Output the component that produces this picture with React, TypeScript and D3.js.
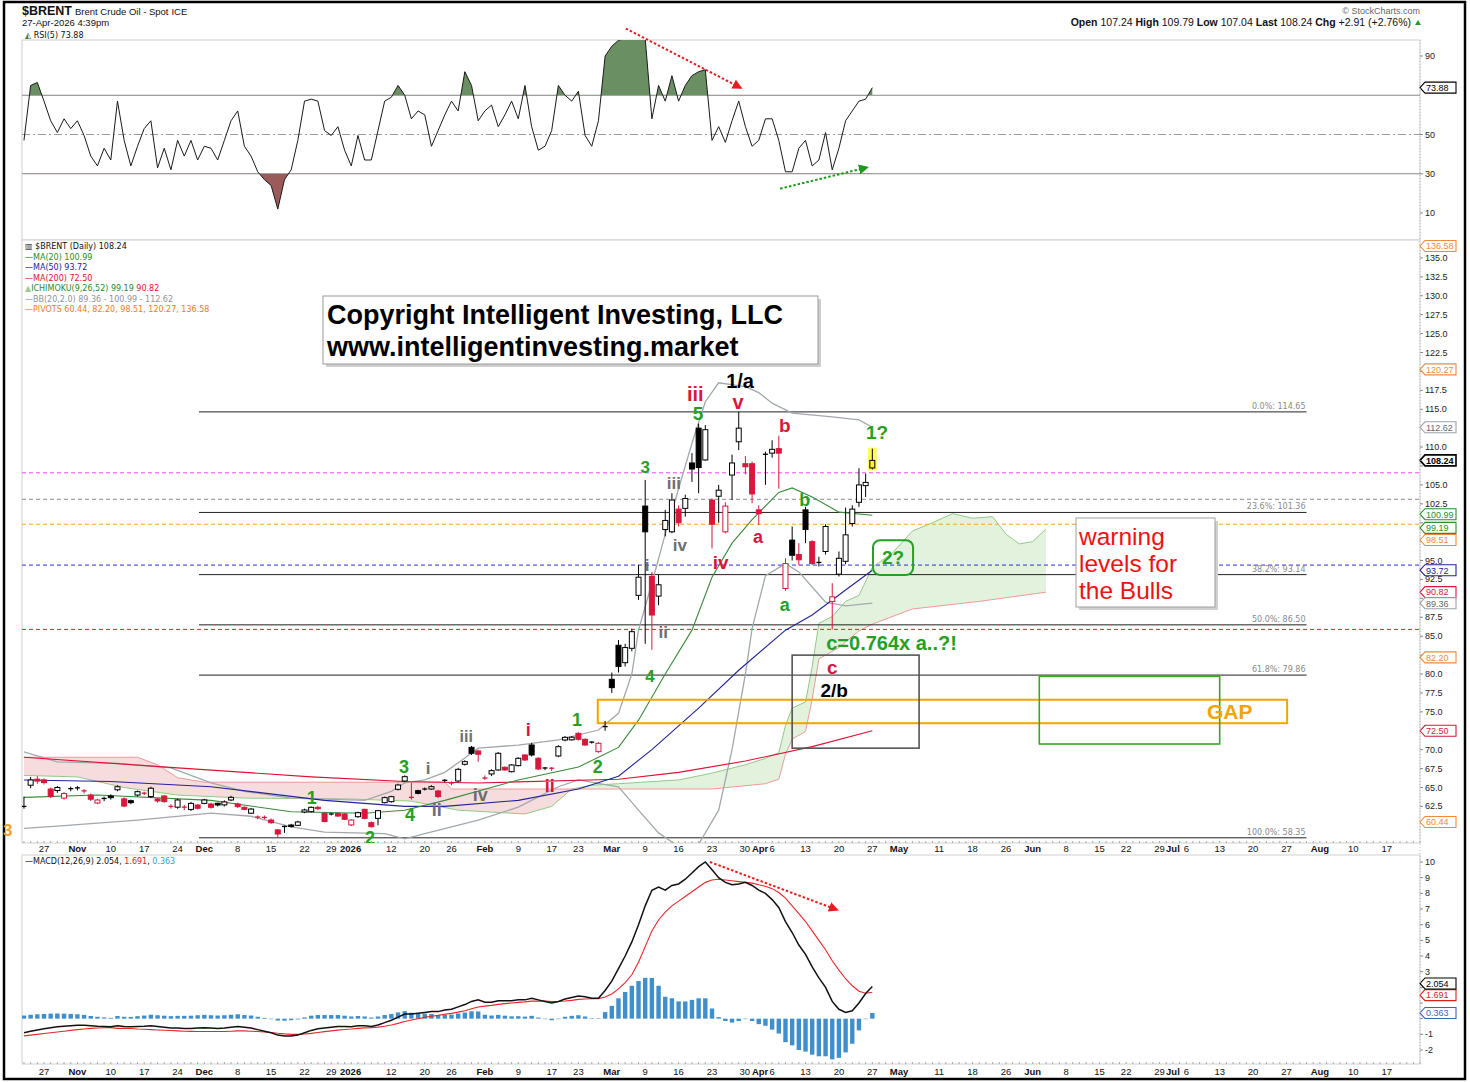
import React from "react";
import * as d3 from "d3";

// ---------- DATA ----------
const START = -3; // trading-day index of first candle (0 = 27 Oct 2025)
const opens = [62.5,65.3,66.1,66.0,64.8,64.6,63.6,64.85,64.95,64.55,64.0,62.95,63.55,63.88,64.7,63.5,63.26,64.0,64.25,63.8,63.48,63.88,62.5,62.4,62.4,62.1,62.69,62.9,62.82,62.91,62.7,63.35,62.82,62.38,61.6,61.1,61.05,60.7,59.4,59.85,60.04,60.0,61.76,61.8,62.38,61.58,61.5,61.58,61.5,60.05,61.14,62.11,60.35,60.92,63.0,63.13,64.76,65.86,63.7,64.58,64.8,64.8,64.54,65.95,65.6,65.86,68.07,70.31,69.83,66.25,66.79,67.32,67.67,67.09,67.89,69.3,70.62,68.86,67.58,67.55,69.17,71.28,71.3,72.16,71.37,71.0,69.74,73.05,79.3,83.8,81.5,83.4,90.4,102.2,92.9,90.3,99.1,98.8,101.8,101.9,107.9,112.5,108.3,103.0,103.5,98.8,106.3,110.7,107.8,107.8,101.7,109.05,109.2,109.8,91.3,97.7,95.8,101.7,97.5,94.75,96.2,89.6,93.2,94.9,99.9,102.7,104.9,107.24];
const highs = [63.8,66.4,66.5,66.2,65.0,65.2,64.4,65.1,65.2,64.8,64.2,63.5,63.8,64.1,65.3,63.7,63.4,64.6,64.45,65.1,63.6,64.0,62.8,63.5,62.7,63.1,62.8,63.5,63.0,63.0,63.3,63.9,63.0,62.5,62.3,61.3,61.3,60.9,59.5,60.0,60.2,60.6,62.2,62.5,62.6,61.7,61.6,61.7,61.6,60.8,61.8,62.2,60.5,62.0,63.8,63.9,65.5,66.6,65.6,64.7,65.0,65.3,64.7,66.1,65.8,67.6,68.6,70.5,70.0,66.6,67.4,69.7,67.8,68.1,69.0,69.4,70.9,69.0,67.7,67.7,70.6,71.8,71.8,72.3,71.5,71.1,71.0,73.8,80.2,84.5,84.0,86.0,94.4,105.65,93.5,93.1,101.7,103.9,102.3,103.7,109.2,113.1,112.9,103.2,105.0,102.7,109.0,114.65,108.8,108.1,102.3,109.4,110.9,111.5,95.3,99.5,97.3,102.1,97.7,95.5,99.8,92.0,96.2,102.0,102.3,107.2,106.5,109.79];
const lows = [62.2,64.9,65.5,65.4,63.6,64.3,63.4,64.5,64.6,64.2,63.2,62.8,63.2,63.4,64.5,62.4,62.8,63.8,64.0,63.6,63.0,63.0,62.2,62.2,62.0,61.9,62.1,62.8,62.2,62.5,62.5,63.2,62.3,62.0,61.5,60.8,60.8,60.2,58.35,59.0,59.7,59.9,61.6,61.7,62.0,60.4,61.3,61.1,60.7,59.9,61.0,60.8,59.7,60.0,62.9,63.0,64.6,65.7,63.4,64.1,64.6,64.7,63.6,65.7,65.3,65.7,67.9,69.3,68.4,66.0,66.5,67.2,67.2,67.0,67.8,68.5,69.1,67.3,67.3,67.2,69.0,71.1,71.2,71.2,70.5,70.8,69.6,72.5,77.5,80.2,81.0,83.0,89.8,84.0,83.2,89.1,98.2,98.6,99.5,100.8,105.4,103.9,108.2,96.6,100.0,98.6,103.0,109.6,106.4,102.6,99.7,105.0,108.6,104.5,91.0,95.0,94.4,97.3,94.4,94.2,95.8,85.9,92.9,94.5,99.5,102.1,103.4,107.04];
const closes = [62.45,66.0,65.85,65.65,63.8,65.0,64.2,64.8,64.9,64.45,63.45,63.35,63.5,63.66,65.1,62.55,63.0,64.45,64.2,64.9,63.22,63.13,62.45,63.35,62.38,62.9,62.25,63.35,62.38,62.69,63.1,63.7,62.47,62.11,62.15,61.05,61.0,60.35,58.85,59.8,59.85,60.44,62.03,62.38,62.2,60.5,61.45,61.23,60.8,60.7,61.67,60.92,59.82,61.94,63.66,63.79,65.33,66.43,63.66,64.23,64.76,65.11,63.8,65.9,65.55,67.4,68.42,69.52,69.39,66.2,67.23,69.52,67.32,67.98,68.86,68.64,69.3,67.45,67.53,67.5,70.4,71.63,71.65,71.37,70.62,70.93,70.84,73.0,78.2,81.0,83.5,85.6,92.8,98.8,87.8,91.8,100.3,103.0,100.0,103.2,107.1,107.3,112.3,99.8,104.3,102.2,107.9,112.5,107.4,103.8,101.2,109.0,109.7,109.2,94.6,95.7,95.1,99.1,94.6,94.7,99.5,90.2,95.3,98.4,101.8,105.0,105.33,108.24];

const rsiValues = [47,75,76.5,67,57,51,58,53,57,49.5,39,34,43,37,67,47,34,44,53,57,33,43,32,47,39,47,37,44,43,37,47,57,62,44,39,31,27,24,12,27,32,47,67,68,67,52,49.5,54,42,34,49.5,37,37,52,67,69,75,70,58,62,60,44,52,60,67,62,82,75,57,62,65,54,60,67,58,75,54,42,44,52,75,70,67,72,49.5,44,57,90,95,98,99,100,100,99,58,75,67,80,67,75,80,82,83,47,54,46,57,67,54,44,47,58,58,47,31,31,43,47,34,37,51,32,43,57,62,67,68,73.88];

const macdValues = [-0.9,-0.8,-0.72,-0.65,-0.58,-0.52,-0.48,-0.45,-0.42,-0.42,-0.45,-0.48,-0.5,-0.52,-0.45,-0.5,-0.52,-0.5,-0.48,-0.45,-0.5,-0.55,-0.6,-0.6,-0.62,-0.62,-0.6,-0.58,-0.6,-0.62,-0.6,-0.55,-0.5,-0.55,-0.6,-0.7,-0.8,-0.9,-1.05,-1.1,-1.1,-1.05,-0.9,-0.75,-0.65,-0.6,-0.55,-0.5,-0.5,-0.52,-0.45,-0.45,-0.5,-0.4,-0.25,-0.1,0.1,0.3,0.3,0.35,0.4,0.45,0.45,0.55,0.6,0.75,0.9,1.1,1.2,1.05,1.05,1.15,1.15,1.15,1.2,1.2,1.3,1.2,1.1,1.0,1.1,1.25,1.35,1.45,1.4,1.3,1.3,1.8,2.4,3.2,4.0,4.9,6.0,7.2,8.2,8.4,8.2,8.5,8.6,8.9,9.3,9.7,10.0,9.5,9.0,8.7,8.55,8.6,8.7,8.5,8.2,8.0,7.6,7.1,6.2,5.5,4.7,4.1,3.3,2.6,2.0,1.1,0.6,0.4,0.5,1.0,1.6,2.054];
const signalValues = [-1.1,-1.05,-1.0,-0.95,-0.9,-0.85,-0.8,-0.75,-0.7,-0.66,-0.62,-0.6,-0.58,-0.57,-0.62,-0.62,-0.63,-0.66,-0.68,-0.7,-0.72,-0.74,-0.76,-0.78,-0.8,-0.81,-0.82,-0.82,-0.82,-0.82,-0.82,-0.8,-0.78,-0.78,-0.8,-0.82,-0.85,-0.88,-0.93,-0.97,-1.0,-1.0,-0.98,-0.94,-0.88,-0.83,-0.78,-0.73,-0.69,-0.66,-0.62,-0.59,-0.57,-0.54,-0.48,-0.4,-0.3,-0.18,-0.08,0.0,0.08,0.15,0.21,0.28,0.34,0.42,0.51,0.63,0.74,0.8,0.85,0.91,0.96,1.0,1.04,1.07,1.12,1.13,1.12,1.1,1.1,1.13,1.17,1.23,1.26,1.27,1.28,1.38,1.58,1.9,2.3,2.8,3.6,4.6,5.6,6.3,6.8,7.2,7.5,7.8,8.1,8.4,8.7,8.85,8.9,8.85,8.8,8.75,8.7,8.65,8.55,8.45,8.3,8.05,7.7,7.2,6.7,6.2,5.6,5.0,4.4,3.7,3.1,2.55,2.1,1.75,1.62,1.691];

const ma20Pts = [[-3,63.7],[8,64.0],[25,63.3],[37,61.8],[48,61.6],[54,62.0],[60,63.3],[71,66.0],[80,67.7],[86,70.3],[89,73.9],[93,80.0],[97,85.8],[100,92.8],[103,97.3],[106,100.4],[110,104.0],[112,104.6],[115,103.4],[119,101.4],[124,100.99]];
const ma50Pts = [[-3,66.0],[10,65.8],[25,65.1],[42,63.3],[54,62.5],[60,62.5],[71,63.3],[80,64.8],[86,66.5],[91,70.0],[98,75.5],[104,80.5],[111,85.8],[115,87.8],[120,91.1],[124,93.72]];
const ma200Pts = [[-3,69.0],[20,67.6],[40,66.4],[54,65.8],[65,65.6],[86,66.1],[95,67.0],[105,68.5],[115,70.4],[124,72.5]];
const bbUpperPts = [[-3,69.7],[2,68.4],[11,68.2],[19,67.6],[25,65.6],[30,64.5],[37,63.6],[48,63.3],[52,64.5],[54,65.6],[57,66.0],[60,67.0],[63,68.9],[65,70.2],[71,70.6],[77,71.3],[83,72.6],[86,74.8],[88,80.0],[89,85.8],[91,92.0],[93,98.5],[95,104.5],[97,110.5],[99,116.0],[101,118.5],[105,118.0],[107,117.2],[109,115.8],[112,114.5],[118,114.0],[122,113.6],[124,112.62]];
const bbLowerPts = [[-3,59.6],[2,59.9],[14,60.7],[25,61.6],[31,61.2],[37,59.8],[42,59.1],[51,58.9],[54,58.2],[57,58.9],[65,60.7],[71,62.4],[77,65.1],[80,66.0],[86,65.1],[89,62.0],[92,59.0],[95,57.2],[98,57.5],[101,62.0],[103,70.0],[105,80.0],[106,86.0],[108,93.0],[111,94.6],[113,93.5],[115,91.5],[117,89.5],[120,89.0],[124,89.36]];
const spanAPts = [[-3,66.6],[5,66.4],[12,65.0],[20,64.0],[30,63.6],[45,63.5],[55,63.2],[62,62.0],[72,61.5],[76,62.5],[79,64.8],[82,65.3],[86,65.5],[95,66.0],[100,66.9],[105,68.0],[108,68.85],[110,69.6],[111,73.2],[112,75.5],[114,76.3],[115,81.0],[116,86.7],[118,87.6],[120,89.6],[122,90.4],[124,94.1],[127,96.0],[130,98.9],[133,100.0],[136,101.2],[139,100.6],[142,100.8],[144,98.5],[146,97.2],[148,97.5],[150,99.19]];
const spanBPts = [[-3,69.0],[14,69.0],[17,68.0],[20,66.3],[24,65.7],[60,65.7],[61,64.8],[100,64.8],[108,65.5],[110,66.1],[111,69.4],[112,71.4],[114,72.4],[115,76.7],[116,82.0],[119,83.5],[122,85.7],[124,86.6],[130,88.6],[140,89.6],[150,90.82]];

const fibLevels = [["0.0%",114.65],["23.6%",101.36],["38.2%",93.14],["50.0%",86.50],["61.8%",79.86],["100.0%",58.35]];
const userLines = [[106.6,"#ff40ff"],[103.1,"#8c8c8c"],[99.8,"#ffa020"],[94.4,"#2d2de0"],[85.9,"#e52020"]];

const xTicks = [[0,"27"],[5,"Nov",1],[10,"10"],[15,"17"],[20,"24"],[24,"Dec",1],[29,"8"],[34,"15"],[39,"22"],[43,"29"],[45.9,"2026",1],[52,"12"],[57,"20"],[61,"26"],[66,"Feb",1],[71,"9"],[76,"17"],[80,"23"],[85,"Mar",1],[90,"9"],[95,"16"],[100,"23"],[104.9,"30"],[107.2,"Apr",1],[109,"6"],[114,"13"],[119,"20"],[124,"27"],[128,"May",1],[134,"11"],[139,"18"],[144,"26"],[148,"Jun",1],[153,"8"],[158,"15"],[162,"22"],[167,"29"],[169,"Jul",1],[171,"6"],[176,"13"],[181,"20"],[186,"27"],[191,"Aug",1],[196,"10"],[201,"17"]];
const priceTicks = [135,132.5,130,127.5,125,122.5,120,117.5,115,112.5,110,107.5,105,102.5,100,97.5,95,92.5,90,87.5,85,82.5,80,77.5,75,72.5,70,67.5,65,62.5];
const rsiTicks = [90,70,50,30,10];
const macdTicks = [10,9,8,7,6,5,4,3,2,1,0,-1,-2];

// [value, colour, vertical nudge in px to keep overlapping tags readable]
const priceTags = [[136.58,"#f08a3c",0],[120.27,"#f08a3c",0],[112.62,"#9aa3ab",0],[108.24,"#000",0],[100.99,"#2e8b2e",-1],[98.51,"#f08a3c",6],[99.19,"#2e8b2e",-1],[93.72,"#22229a",0],[90.82,"#d8173d",0],[89.36,"#9aa3ab",0],[82.20,"#f08a3c",0],[72.50,"#d8173d",0],[60.44,"#f08a3c",0]];
const macdTags = [[1.691,"#e02020",3],[2.054,"#000",-3],[0.363,"#3c64b4",0]];

const RED = "#d8173d";
const GREEN = "#25a025";
const GRAY = "#6e6e6e";

const waveLabels = [
  ["1/a",104.2,118.7,"#000",20],["iii",97.5,117.0,RED,20],["5",97.9,114.5,GREEN,19],["v",103.9,116.0,RED,20],
  ["b",110.9,112.9,RED,19],["1?",124.7,111.9,GREEN,19],["3",90.0,107.4,GREEN,17],["iii",94.3,105.3,GRAY,17],
  ["iv",95.2,97.1,GRAY,17],["a",106.9,98.1,RED,18],["iv",101.3,94.7,RED,19],["b",113.9,103.0,GREEN,18],
  ["a",110.9,89.1,GREEN,18],["i",90.3,94.4,GRAY,17],["ii",92.7,85.6,GRAY,17],["4",90.7,79.7,GREEN,17],
  ["c",118.0,80.9,RED,19],["2/b",118.3,77.9,"#000",19],["iii",63.2,71.7,GRAY,16],["i",72.5,72.6,RED,18],
  ["1",79.8,73.9,GREEN,18],["2",82.9,67.8,GREEN,18],["3",53.9,67.8,GREEN,18],["i",57.5,67.6,GRAY,17],
  ["iv",65.3,64.0,GRAY,18],["ii",75.7,65.2,RED,18],["1",40.1,63.6,GREEN,18],["4",54.8,61.4,GREEN,18],
  ["ii",58.8,62.0,GRAY,18],["2",48.8,58.3,GREEN,18]
];

// ---------- HELPERS ----------
function interp(pts, t) {
  if (t <= pts[0][0]) return pts[0][1];
  for (let k = 1; k < pts.length; k++) {
    if (t <= pts[k][0]) {
      const [x0, y0] = pts[k - 1], [x1, y1] = pts[k];
      return y0 + (y1 - y0) * (t - x0) / (x1 - x0);
    }
  }
  return pts[pts.length - 1][1];
}

const F_SANS = "'Liberation Sans', Arial, sans-serif";
const F_NAR = "'Liberation Sans Narrow', 'Liberation Sans', Arial, sans-serif";
const F_VER = "'DejaVu Sans', Verdana, sans-serif";

export default function App() {
  const PX0 = 22, PX1 = 1420;
  const RSI_T = 40, RSI_B = 240, MAIN_T = 240, MAIN_B = 843, MACD_T = 855, MACD_B = 1064;
  const x = d3.scaleLinear().domain([0, 124]).range([44, 44 + 124 * 6.68]);
  const yP = d3.scaleLinear().domain([136.58, 60.44]).range([246, 822]);
  const yR = d3.scaleLinear().domain([90, 10]).range([56, 213]);
  const yM = d3.scaleLinear().domain([10, -2]).range([862, 1050]);

  const idxs = closes.map((_, i) => START + i);
  const ptLine = (ys) => d3.line().x((d) => x(d[0])).y((d) => ys(d[1]));
  const pLine = ptLine(yP);

  const cloudT = d3.range(-3, 150.001, 0.25);
  const cloud = cloudT.map((t) => ({ t, a: yP(interp(spanAPts, t)), b: yP(interp(spanBPts, t)) }));
  const greenArea = d3.area().x((d) => x(d.t)).y0((d) => d.b).y1((d) => Math.min(d.a, d.b))(cloud);
  const pinkArea = d3.area().x((d) => x(d.t)).y0((d) => d.a).y1((d) => Math.min(d.a, d.b))(cloud);

  const rsiPts = rsiValues.map((v, i) => [START + i, v]);
  const rsiLine = ptLine(yR)(rsiPts);
  const rsiHiArea = d3.area().x((d) => x(d[0])).y0(yR(70)).y1((d) => yR(d[1]))(rsiPts);
  const rsiLoArea = d3.area().x((d) => x(d[0])).y0(yR(30)).y1((d) => yR(d[1]))(rsiPts);

  const macdPts = macdValues.map((v, i) => [START + i, v]);
  const sigPts = signalValues.map((v, i) => [START + i, v]);

  const tag = (yc, color, text, key, bold = false) => (
    <g key={key}>
      <polygon points={`${PX1},${yc} ${PX1 + 5},${yc - 5.5} ${PX1 + 36},${yc - 5.5} ${PX1 + 36},${yc + 5.5} ${PX1 + 5},${yc + 5.5}`}
        fill="#fff" stroke={color} strokeWidth={bold ? 1.6 : 1.1} />
      <text x={PX1 + 6} y={yc + 3.3} fontSize={9} fontFamily={F_SANS} fill={color === "#9aa3ab" ? "#666" : color} fontWeight={bold ? 700 : 400}>{text}</text>
    </g>
  );
  const priceTagYs = priceTags.map(([v, , n]) => yP(v) + n);
  const macdTagYs = macdTags.map(([v, , n]) => yM(v) + n);
  const clear = (yy, tagYs) => tagYs.every((t) => Math.abs(t - yy) > 9);

  const minorTicks = d3.range(-3, 207);

  const xAxisLabels = (yBase, kp) => xTicks.map(([i, t, b], k) => (
    <text key={kp + k} x={x(i)} y={yBase} textAnchor="middle" fontSize={9.5} fontFamily={F_NAR} fontWeight={b ? 700 : 400} fill="#111">{t}</text>
  ));

  return (
    <div style={{ position: "absolute", left: 0, top: 0, background: "#fff" }}>
      <svg width={1470} height={1082} style={{ display: "block", background: "#fff" }}>
        <defs>
          <clipPath id="cpMain"><rect x={PX0} y={MAIN_T} width={PX1 - PX0} height={MAIN_B - MAIN_T} /></clipPath>
          <clipPath id="cpRsi"><rect x={PX0} y={RSI_T} width={PX1 - PX0} height={RSI_B - RSI_T} /></clipPath>
          <clipPath id="cpRsiHi"><rect x={PX0} y={RSI_T} width={PX1 - PX0} height={yR(70) - RSI_T} /></clipPath>
          <clipPath id="cpRsiLo"><rect x={PX0} y={yR(30)} width={PX1 - PX0} height={RSI_B - yR(30)} /></clipPath>
          <clipPath id="cpMacd"><rect x={PX0} y={MACD_T} width={PX1 - PX0} height={MACD_B - MACD_T} /></clipPath>
          <marker id="arR" viewBox="0 0 10 10" refX="8" refY="5" markerWidth="5" markerHeight="5" orient="auto">
            <path d="M0,0 L10,5 L0,10 z" fill="#e81c1c" />
          </marker>
          <marker id="arG" viewBox="0 0 10 10" refX="8" refY="5" markerWidth="5" markerHeight="5" orient="auto">
            <path d="M0,0 L10,5 L0,10 z" fill="#1a9a1a" />
          </marker>
        </defs>

        <rect x={4} y={2} width={1461} height={1077} fill="none" stroke="#000" strokeWidth={2.5} />

        {/* header */}
        <text x={22} y={15} fontFamily={F_NAR} fontSize={9.5} fill="#111">
          <tspan fontSize={12.5} fontWeight={700}>$BRENT</tspan>
          <tspan dx={3}>Brent Crude Oil - Spot</tspan>
          <tspan dx={3}>ICE</tspan>
        </text>
        <text x={22} y={26} fontFamily={F_NAR} fontSize={9.5} fill="#111">27-Apr-2026 4:39pm</text>
        <text x={1420} y={14} fontFamily={F_NAR} fontSize={9} fill="#666" textAnchor="end">© StockCharts.com</text>
        <text x={1411} y={26} fontFamily={F_NAR} fontSize={10.5} fill="#111" textAnchor="end">
          <tspan fontWeight={700}>Open</tspan> 107.24 <tspan fontWeight={700}>High</tspan> 109.79 <tspan fontWeight={700}>Low</tspan> 107.04 <tspan fontWeight={700}>Last</tspan> 108.24 <tspan fontWeight={700}>Chg</tspan> +2.91 (+2.76%)
        </text>
        <polygon points="1415,25 1418,20 1421,25" fill="#2a9a2a" />

        {/* ===== RSI PANEL ===== */}
        <rect x={PX0} y={RSI_T} width={PX1 - PX0} height={RSI_B - RSI_T} fill="#fff" stroke="#cfcfcf" />
        <line x1={PX0} x2={PX1} y1={yR(70)} y2={yR(70)} stroke="#8a8a8a" strokeWidth={1} />
        <line x1={PX0} x2={PX1} y1={yR(30)} y2={yR(30)} stroke="#8a8a8a" strokeWidth={1} />
        <line x1={PX0} x2={PX1} y1={yR(50)} y2={yR(50)} stroke="#9a9a9a" strokeWidth={1} strokeDasharray="8,3,2,3" />
        <g clipPath="url(#cpRsiHi)"><path d={rsiHiArea} fill="#6a8f62" /></g>
        <g clipPath="url(#cpRsiLo)"><path d={rsiLoArea} fill="#9c5b5b" /></g>
        <g clipPath="url(#cpRsi)"><path d={rsiLine} fill="none" stroke="#1a1a1a" strokeWidth={1} /></g>
        <line x1={x(87.1)} y1={yR(104)} x2={x(104.3)} y2={yR(73.8)} stroke="#e81c1c" strokeWidth={2} strokeDasharray="2.5,2" markerEnd="url(#arR)" />
        <line x1={x(110.2)} y1={yR(22.4)} x2={x(123.2)} y2={yR(33.2)} stroke="#1a9a1a" strokeWidth={2} strokeDasharray="2.5,2" markerEnd="url(#arG)" />
        <text x={25} y={38} fontFamily={F_VER} fontSize={8} fill="#111">
          <tspan fill="#3c7a3c">◭</tspan> RSI(5) 73.88
        </text>
        {rsiTicks.filter((v) => clear(yR(v), [yR(73.88)])).map((v) => (
          <g key={"rt" + v}>
            <line x1={PX1} x2={PX1 + 3} y1={yR(v)} y2={yR(v)} stroke="#888" />
            <text x={PX1 + 5} y={yR(v) + 3} fontSize={9} fontFamily={F_SANS} fill="#222">{v}</text>
          </g>
        ))}
        {tag(yR(73.88), "#000", "73.88", "rsiTag")}

        {/* ===== MAIN PANEL ===== */}
        <rect x={PX0} y={MAIN_T} width={PX1 - PX0} height={MAIN_B - MAIN_T} fill="#fff" stroke="#cfcfcf" />
        <g clipPath="url(#cpMain)">
          <path d={pinkArea} fill="#f6dcdc" />
          <path d={greenArea} fill="#e3f2dc" />
          <path d={pLine(spanAPts)} fill="none" stroke="#93c98a" strokeWidth={1} />
          <path d={pLine(spanBPts)} fill="none" stroke="#ef9a9a" strokeWidth={1} />

          {userLines.map(([v, c], k) => (
            <line key={"ul" + k} x1={PX0} x2={PX1} y1={yP(v)} y2={yP(v)} stroke={c} strokeWidth={1} strokeDasharray="4,3" />
          ))}
          {fibLevels.map(([p, v], k) => (
            <g key={"fb" + k}>
              <line x1={x(23.2)} x2={x(189)} y1={yP(v)} y2={yP(v)} stroke="#222" strokeWidth={1} />
              <text x={x(189) - 1} y={yP(v) - 3} textAnchor="end" fontSize={8} fontFamily={F_VER} fill="#8a8a8a">{p}: {v.toFixed(2)}</text>
            </g>
          ))}

          <path d={pLine(bbUpperPts)} fill="none" stroke="#a3a8ad" strokeWidth={1.3} />
          <path d={pLine(bbLowerPts)} fill="none" stroke="#a3a8ad" strokeWidth={1.3} />
          <path d={pLine(ma200Pts)} fill="none" stroke="#dd1133" strokeWidth={1.1} />
          <path d={pLine(ma50Pts)} fill="none" stroke="#23239c" strokeWidth={1.1} />
          <path d={pLine(ma20Pts)} fill="none" stroke="#3a8a3a" strokeWidth={1.1} />

          <rect x={x(82.9)} y={yP(76.6)} width={x(186.1) - x(82.9)} height={yP(73.5) - yP(76.6)} fill="none" stroke="#f5a300" strokeWidth={2} />
          <rect x={x(149)} y={yP(79.7)} width={x(176) - x(149)} height={yP(70.75) - yP(79.7)} fill="none" stroke="#3aa51e" strokeWidth={1.6} />
          <rect x={x(112)} y={yP(82.5)} width={x(131) - x(112)} height={yP(70.2) - yP(82.5)} fill="none" stroke="#555" strokeWidth={1.6} />

          {idxs.map((id, i) => {
            const o = opens[i], h = highs[i], l = lows[i], c = closes[i];
            const pc = i > 0 ? closes[i - 1] : c;
            const up = c >= o, down = c < pc;
            const last = i === idxs.length - 1;
            const col = down ? RED : "#000";
            const fill = last ? "#ffee33" : up ? "#fff" : col;
            const cx = x(id);
            const yt = yP(Math.max(o, c)), yb = yP(Math.min(o, c));
            const bh = Math.max(1, yb - yt);
            return (
              <g key={"cd" + i}>
                {last && <rect x={cx - 4.5} y={yP(h) - 1} width={9} height={yP(l) - yP(h) + 2} fill="#ffff55" />}
                <line x1={cx} x2={cx} y1={yP(h)} y2={yP(l)} stroke={col} strokeWidth={1} />
                {bh <= 1.2 ? (
                  <line x1={cx - 2.5} x2={cx + 2.5} y1={yt} y2={yt} stroke={col} strokeWidth={1.3} />
                ) : (
                  <rect x={cx - 2.5} y={yt} width={5} height={bh} fill={fill} stroke={col} strokeWidth={1} />
                )}
              </g>
            );
          })}

          {waveLabels.map(([t, i, v, c, s], k) => (
            <text key={"wl" + k} x={x(i)} y={yP(v)} dy="0.35em" textAnchor="middle" fontSize={s} fontWeight={700} fontFamily={F_SANS} fill={c}>{t}</text>
          ))}
          <text x={x(117.1)} y={yP(84.1)} dy="0.35em" fontSize={20} fontWeight={700} fontFamily={F_SANS} fill={GREEN}>c=0.764x a..?!</text>
          <rect x={x(124.1)} y={yP(97.7)} width={x(130.1) - x(124.1)} height={yP(93.1) - yP(97.7)} rx={7} fill="none" stroke={GREEN} strokeWidth={2} />
          <text x={x(127.1)} y={yP(95.4)} dy="0.35em" textAnchor="middle" fontSize={19} fontWeight={700} fontFamily={F_SANS} fill={GREEN}>2?</text>
          <text x={x(177.5)} y={yP(75.05)} dy="0.36em" textAnchor="middle" fontSize={21} fontWeight={700} fontFamily={F_SANS} fill="#f5a300">GAP</text>
        </g>

        {/* copyright box */}
        <rect x={326} y={299} width={495} height={68} fill="#cfcfcf" />
        <rect x={323} y={296} width={495} height={68} fill="#fff" stroke="#9a9a9a" />
        <text x={327} y={324} fontSize={27} fontWeight={700} fontFamily={F_SANS} fill="#000">Copyright Intelligent Investing, LLC</text>
        <text x={327} y={356} fontSize={27} fontWeight={700} fontFamily={F_SANS} fill="#000">www.intelligentinvesting.market</text>

        {/* warning box */}
        <rect x={1079} y={521} width={139} height={89} fill="#d0d0d0" />
        <rect x={1076} y={518} width={139} height={89} fill="#fff" stroke="#a0a0a0" />
        <text x={1079} y={545} fontSize={24.5} fontFamily={F_SANS} fill="#ee1111">warning</text>
        <text x={1079} y={572} fontSize={24.5} fontFamily={F_SANS} fill="#ee1111">levels for</text>
        <text x={1079} y={599} fontSize={24.5} fontFamily={F_SANS} fill="#ee1111">the Bulls</text>

        <text x={3} y={836} fontSize={17} fontWeight={700} fontFamily={F_SANS} fill="#f0a020">3</text>

        {/* main legend */}
        <g fontFamily={F_VER} fontSize={8}>
          <text x={25} y={249} fill="#111"><tspan fill="#333">▥</tspan> $BRENT (Daily) 108.24</text>
          <text x={25} y={259.5} fill="#2a8a2a">—MA(20) 100.99</text>
          <text x={25} y={270} fill="#22229a">—MA(50) 93.72</text>
          <text x={25} y={280.5} fill="#dd1133">—MA(200) 72.50</text>
          <text x={25} y={291} fill="#2a8a2a"><tspan fill="#9cc994">▲</tspan>ICHIMOKU(9,26,52) 99.19 <tspan fill="#dd1133">90.82</tspan></text>
          <text x={25} y={301.5} fill="#8d949b">—BB(20,2.0) 89.36 - 100.99 - 112.62</text>
          <text x={25} y={312} fill="#f07a26">—PIVOTS 60.44, 82.20, 98.51, 120.27, 136.58</text>
        </g>

        {/* price axis */}
        {priceTicks.map((v) => (
          <g key={"pt" + v}>
            <line x1={PX1} x2={PX1 + 3} y1={yP(v)} y2={yP(v)} stroke="#888" />
            {clear(yP(v), priceTagYs) && (
              <text x={PX1 + 5} y={yP(v) + 3} fontSize={9} fontFamily={F_SANS} fill="#222">{v.toFixed(1)}</text>
            )}
          </g>
        ))}
        {priceTags.map(([v, c, n], k) => tag(yP(v) + n, c, v.toFixed(2), "ptg" + k, v === 108.24))}

        {minorTicks.map((i) => (
          <line key={"mt" + i} x1={x(i)} x2={x(i)} y1={MAIN_B - 2} y2={MAIN_B} stroke="#aaa" />
        ))}
        {xAxisLabels(852, "xa")}

        {/* ===== MACD PANEL ===== */}
        <rect x={PX0} y={MACD_T} width={PX1 - PX0} height={MACD_B - MACD_T} fill="#fff" stroke="#cfcfcf" />
        <g clipPath="url(#cpMacd)">
          {macdValues.map((m, i) => {
            const hv = m - signalValues[i];
            const y0 = yM(0), y1 = yM(hv);
            return <rect key={"hb" + i} x={x(START + i) - 2.2} y={Math.min(y0, y1)} width={4.4} height={Math.max(0.5, Math.abs(y1 - y0))} fill="#3f8fcc" />;
          })}
          <path d={ptLine(yM)(sigPts)} fill="none" stroke="#e8262a" strokeWidth={1.1} />
          <path d={ptLine(yM)(macdPts)} fill="none" stroke="#111" strokeWidth={1.5} />
        </g>
        <line x1={x(99.7)} y1={yM(10.0)} x2={x(118.7)} y2={yM(6.95)} stroke="#e81c1c" strokeWidth={2} strokeDasharray="2.5,2" markerEnd="url(#arR)" />
        <text x={25} y={864} fontFamily={F_VER} fontSize={8} fill="#111">
          —MACD(12,26,9) 2.054, <tspan fill="#e02020">1.691</tspan>, <tspan fill="#3a9ad9">0.363</tspan>
        </text>
        {macdTicks.map((v) => (
          <g key={"mk" + v}>
            <line x1={PX1} x2={PX1 + 3} y1={yM(v)} y2={yM(v)} stroke="#888" />
            {clear(yM(v), macdTagYs) && (
              <text x={PX1 + 5} y={yM(v) + 3} fontSize={9} fontFamily={F_SANS} fill="#222">{v}</text>
            )}
          </g>
        ))}
        {macdTags.map(([v, c, n], k) => tag(yM(v) + n, c, v.toFixed(3), "mtg" + k))}
        {minorTicks.map((i) => (
          <line key={"mt2" + i} x1={x(i)} x2={x(i)} y1={MACD_B - 2} y2={MACD_B} stroke="#aaa" />
        ))}
        {xAxisLabels(1075, "xb")}

        <line x1={PX1} x2={PX1} y1={RSI_T} y2={MACD_B} stroke="#bbb" strokeDasharray="1,2" />
      </svg>
    </div>
  );
}
